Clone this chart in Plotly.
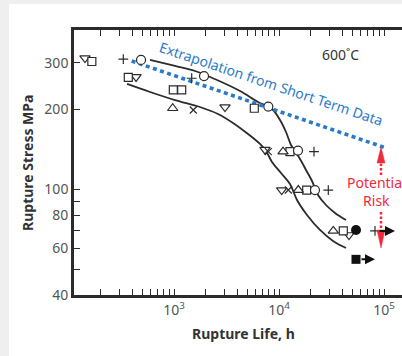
import numpy as np
import plotly.graph_objects as go

# ---------------- data (rupture life h, rupture stress MPa) ----------------
tri_down_h = [142, 435, 3060, 7356, 10610, 46416]
tri_down_s = [312, 265, 204, 141, 99.4, 67.3]
square_h = [165, 367, 985, 1184, 5819, 12727, 18358, 40970]
square_s = [303, 264, 237, 237, 202, 138.6, 99.4, 69.7]
circle_h = [485, 1931, 7910, 15170, 22023]
circle_s = [307, 267, 205, 140, 99.4]
plus_h = [329, 1474, 21544, 29480, 82090]
plus_s = [309, 262, 138.6, 99.4, 69.7]
tri_up_h = [972, 10920, 15270, 32900]
tri_up_s = [202, 138.6, 99.4, 69.7]
cross_h = [1527, 7910, 12263]
cross_s = [199, 138.6, 99.4]
filled_circle_h = [54117]
filled_circle_s = [70.3]
filled_square_h = [54117]
filled_square_s = [54.5]

upper_curve_h = [591, 1022, 1585, 2568, 4253, 6310, 8577, 10221, 11659, 13013,
                 14520, 15849, 18077, 20621, 23520, 28030, 34150, 43460]
upper_curve_s = [307, 291.5, 279, 258, 234.6, 213.3, 200.7, 182.5, 164.4, 146.9,
                 137.1, 130.1, 118.3, 107.5, 95.2, 87.3, 81.5, 76.6]
lower_curve_h = [357, 591, 1022, 1768, 2624, 3647, 5069, 6592, 7519, 8577,
                 10447, 12727, 14840, 18480, 24580, 32690, 43460]
lower_curve_s = [249.4, 232.6, 216.9, 204.2, 192.2, 177.8, 161.6, 148.2, 139.5, 126.8,
                 115.2, 104.7, 91.2, 80.1, 70.3, 63.9, 60.1]

extrap_h = [395, 106100]
extrap_s = [304.3, 142.8]

# run-out arrows (start h, end h, stress)
runout_start_h = [59070, 87700]
runout_end_h = [82090, 127270]
runout_s = [54.5, 69.7]

# potential-risk arrows
risk_h = 93640
risk_up_shaft_s = [113.2, 125.7]
risk_up_head_s = [125.7, 144.4]      # base, tip
risk_down_shaft_s = [82.2, 70.3]
risk_down_head_s = [70.3, 60.1]      # base, tip

x_tickvals = sorted([v * 10 ** e for e in (2, 3, 4) for v in range(2, 10)] + [1000, 10000, 100000])
x_ticktext = ["10<sup>%d</sup>" % int(round(np.log10(v))) if v in (1000, 10000, 100000) else ""
              for v in x_tickvals]
y_tickvals = [40, 50, 60, 70, 80, 90, 100, 200, 300]
y_ticktext = ["40", "", "60", "", "80", "", "100", "200", "300"]

# ---------------- styling ----------------
FONT = "Noto Sans"
DARK = "#2b2b2b"
GRAY = "#555555"
BLUE = "#2a7ac7"
RED = "#ee2b3b"
FRAME = "#efefef"

fig = go.Figure()

for hx, sy in ((upper_curve_h, upper_curve_s), (lower_curve_h, lower_curve_s)):
    fig.add_trace(go.Scatter(x=hx, y=sy, mode="lines", line=dict(color=DARK, width=1.8, shape="spline"),
                             hoverinfo="skip"))

fig.add_trace(go.Scatter(x=extrap_h, y=extrap_s, mode="lines",
                         line=dict(color=BLUE, width=3.6, dash="4px,3.5px")))

def open_marker(hx, sy, symbol, size):
    fig.add_trace(go.Scatter(x=hx, y=sy, mode="markers",
                             marker=dict(symbol=symbol, size=size, color="white",
                                         line=dict(color=DARK, width=1.2))))

open_marker(tri_down_h, tri_down_s, "triangle-down", 9)
open_marker(square_h, square_s, "square", 8)
open_marker(circle_h, circle_s, "circle", 9)
open_marker(tri_up_h, tri_up_s, "triangle-up", 9)
fig.add_trace(go.Scatter(x=plus_h, y=plus_s, mode="markers",
                         marker=dict(symbol="cross-thin", size=7, line=dict(color=DARK, width=1.2))))
fig.add_trace(go.Scatter(x=cross_h, y=cross_s, mode="markers",
                         marker=dict(symbol="x-thin", size=7, line=dict(color=DARK, width=1.2))))
fig.add_trace(go.Scatter(x=filled_circle_h, y=filled_circle_s, mode="markers",
                         marker=dict(symbol="circle", size=10, color="#111111")))
fig.add_trace(go.Scatter(x=filled_square_h, y=filled_square_s, mode="markers",
                         marker=dict(symbol="square", size=9, color="#111111")))

# red risk arrows: dotted shafts and narrow heads
hw = 10 ** (4 / 105)
for shaft in (risk_up_shaft_s, risk_down_shaft_s):
    fig.add_trace(go.Scatter(x=[risk_h, risk_h], y=shaft, mode="lines",
                             line=dict(color=RED, width=2.5, dash="2.5px,2px")))
for base, tip in (risk_up_head_s, risk_down_head_s):
    fig.add_trace(go.Scatter(x=[risk_h / hw, risk_h * hw, risk_h, risk_h / hw],
                             y=[base, base, tip, base], mode="lines", fill="toself",
                             fillcolor=RED, line=dict(color=RED, width=0.5)))

annotations = []
for x0, x1, s in zip(runout_start_h, runout_end_h, runout_s):
    annotations.append(dict(x=np.log10(x1), y=np.log10(s), ax=np.log10(x0), ay=np.log10(s),
                            xref="x", yref="y", axref="x", ayref="y", text="", showarrow=True,
                            arrowhead=2, arrowsize=1, arrowwidth=2, arrowcolor="#111111"))

annotations.append(dict(x=3.925, y=2.398, xref="x", yref="y", text="Extrapolation from Short Term Data",
                        showarrow=False, textangle=18.5, xanchor="center", yanchor="middle",
                        font=dict(family=FONT, size=14, color=BLUE)))
annotations.append(dict(x=4.59, y=2.506, xref="x", yref="y", text="600˚C", showarrow=False,
                        xanchor="center", yanchor="middle",
                        font=dict(family=FONT, size=14, color="#333333")))
annotations.append(dict(x=4.93, y=1.992, xref="x", yref="y", text="Potential<br>Risk",
                        showarrow=False, align="center", xanchor="center", yanchor="middle",
                        font=dict(family=FONT, size=14, color=RED)))
annotations.append(dict(x=(27 - 74) / 328, y=(295 - 163) / 265, xref="paper", yref="paper",
                        text="Rupture Stress MPa", textangle=-90, showarrow=False,
                        xanchor="center", yanchor="middle",
                        font=dict(family=FONT, size=14, color="#333333", weight="bold")))
annotations.append(dict(x=(243 - 74) / 328, y=-(333 - 295) / 265, xref="paper", yref="paper",
                        text="Rupture Life, h", showarrow=False, xanchor="center", yanchor="middle",
                        font=dict(family=FONT, size=14, color="#333333", weight="bold")))

# light grey frame strips along the left and top edges
shapes = [
    dict(type="rect", xref="paper", yref="paper", x0=-74 / 328, x1=(9 - 74) / 328,
         y0=-61 / 265, y1=(295 - 0) / 265, fillcolor=FRAME, line=dict(width=0), layer="below"),
    dict(type="rect", xref="paper", yref="paper", x0=-74 / 328, x1=1.0,
         y0=(295 - 4) / 265, y1=(295 - 0) / 265, fillcolor=FRAME, line=dict(width=0), layer="below"),
]

fig.update_layout(
    width=402, height=356,
    margin=dict(l=74, r=0, t=30, b=61),
    paper_bgcolor="white", plot_bgcolor="white",
    showlegend=False,
    font=dict(family=FONT, size=14, color=GRAY),
    annotations=annotations, shapes=shapes,
    xaxis=dict(type="log", range=[2.0476, 5.1714], showgrid=False, zeroline=False,
               showline=True, linecolor=DARK, linewidth=2.6, mirror="ticks",
               ticks="inside", ticklen=6, tickwidth=1, tickcolor=DARK,
               tickvals=x_tickvals, ticktext=x_ticktext,
               tickfont=dict(family=FONT, size=14, color=GRAY)),
    yaxis=dict(type="log", range=[1.6021, 2.600], showgrid=False, zeroline=False,
               showline=True, linecolor=DARK, linewidth=2.6,
               ticks="inside", ticklen=6, tickwidth=1, tickcolor=DARK,
               tickvals=y_tickvals, ticktext=y_ticktext,
               tickfont=dict(family=FONT, size=14, color=GRAY)),
)

fig.write_html("out.html", config={"displayModeBar": False},
               post_script="document.body.style.margin='0';document.body.style.overflow='hidden';"
                           "document.documentElement.style.overflow='hidden';")
